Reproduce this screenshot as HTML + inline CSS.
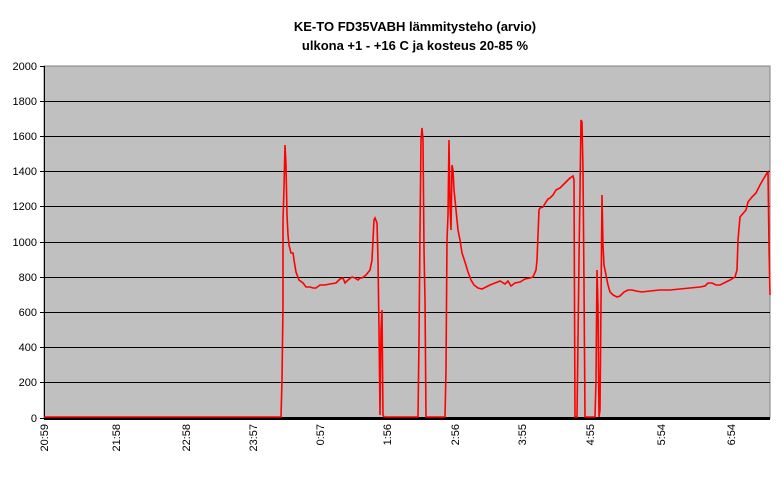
<!DOCTYPE html>
<html><head><meta charset="utf-8"><style>
body{margin:0;background:#fff;width:782px;height:480px;overflow:hidden}
svg{font-family:"Liberation Sans",sans-serif}
</style></head><body>
<svg width="782" height="480" xmlns="http://www.w3.org/2000/svg">
<text x="415" y="31" font-size="13" font-weight="bold" text-anchor="middle">KE-TO FD35VABH lämmitysteho (arvio)</text>
<text x="415" y="50" font-size="13" font-weight="bold" text-anchor="middle">ulkona +1 - +16 C ja kosteus 20-85 %</text>
<rect x="44" y="66" width="726" height="352" fill="#c0c0c0" stroke="#808080" stroke-width="1"/>
<g stroke="#000" stroke-width="1">
<line x1="44" x2="770" y1="101.5" y2="101.5"/><line x1="44" x2="770" y1="136.5" y2="136.5"/>
<line x1="44" x2="770" y1="171.5" y2="171.5"/><line x1="44" x2="770" y1="206.5" y2="206.5"/>
<line x1="44" x2="770" y1="242.5" y2="242.5"/><line x1="44" x2="770" y1="277.5" y2="277.5"/>
<line x1="44" x2="770" y1="312.5" y2="312.5"/><line x1="44" x2="770" y1="347.5" y2="347.5"/>
<line x1="44" x2="770" y1="382.5" y2="382.5"/>
<line x1="44.5" x2="44.5" y1="66" y2="420"/>
<line x1="40" x2="44" y1="66.5" y2="66.5"/><line x1="40" x2="44" y1="101.5" y2="101.5"/>
<line x1="40" x2="44" y1="136.5" y2="136.5"/><line x1="40" x2="44" y1="171.5" y2="171.5"/>
<line x1="40" x2="44" y1="206.5" y2="206.5"/><line x1="40" x2="44" y1="242.5" y2="242.5"/>
<line x1="40" x2="44" y1="277.5" y2="277.5"/><line x1="40" x2="44" y1="312.5" y2="312.5"/>
<line x1="40" x2="44" y1="347.5" y2="347.5"/><line x1="40" x2="44" y1="382.5" y2="382.5"/>
<line x1="40" x2="44" y1="418.5" y2="418.5"/>
</g>
<rect x="44" y="417" width="726" height="3" fill="#000"/>
<g font-size="11" text-anchor="end">
<text x="37" y="70">2000</text><text x="37" y="105">1800</text><text x="37" y="140">1600</text>
<text x="37" y="175">1400</text><text x="37" y="210">1200</text><text x="37" y="246">1000</text>
<text x="37" y="281">800</text><text x="37" y="316">600</text><text x="37" y="351">400</text>
<text x="37" y="386">200</text><text x="37" y="422">0</text>
</g>
<g font-size="11" text-anchor="end">
<text transform="translate(48,424) rotate(-90)">20:59</text>
<text transform="translate(120,424) rotate(-90)">21:58</text>
<text transform="translate(190,424) rotate(-90)">22:58</text>
<text transform="translate(257,424) rotate(-90)">23:57</text>
<text transform="translate(324,424) rotate(-90)">0:57</text>
<text transform="translate(391,424) rotate(-90)">1:56</text>
<text transform="translate(459,424) rotate(-90)">2:56</text>
<text transform="translate(526,424) rotate(-90)">3:55</text>
<text transform="translate(594,424) rotate(-90)">4:55</text>
<text transform="translate(665,424) rotate(-90)">5:54</text>
<text transform="translate(735,424) rotate(-90)">6:54</text>
</g>
<polyline fill="none" stroke="#f00" stroke-width="1.6" points="44,417 281,417 282,380 283,305 283,220 284,188 285,145 286,165 287,215 288,235 289,245 291,253 293,253 294,260 296,272 299,280 303,283 306,287 310,287 313,288 316,288 320,285 325,285 330,284 336,283 340,279 343,278 345,283 348,280 352,277 355,278 358,280 360,278 362,278 366,275 370,270 372,260 374,220 375,218 377,223 378,260 379,330 380,415 381,330 382,310 383,415 384,417 418,417 419,340 420,230 421,140 422,128 423,140 424,250 425,300 426,417 445,417 446,370 447,240 448,215 449,140 450,205 451,230 452,165 453,170 454,190 456,210 458,230 460,240 462,253 465,262 468,272 471,280 474,285 478,288 482,289 486,287 490,285 495,283 500,281 505,284 508,281 511,286 515,283 520,282 525,279 530,278 533,277 536,270 537,260 538,235 539,210 540,208 543,207 546,202 548,199 550,198 553,195 556,190 560,188 565,183 570,178 573,176 574,180 575,417 577,417 578,340 579,260 580,190 581,120 582,122 583,170 584,285 585,417 595,417 596,380 597,270 598,307 599,417 600,410 602,195 603,245 604,265 606,275 608,285 610,292 613,295 617,297 620,296 624,292 628,290 632,290 636,291 642,292 650,291 660,290 670,290 680,289 690,288 700,287 705,286 708,283 712,283 716,285 720,285 726,282 730,280 735,277 737,270 738,240 740,217 746,210 748,202 752,197 756,193 760,185 764,178 767,173 768,172 769,245 770,295"/>
</svg>
</body></html>
